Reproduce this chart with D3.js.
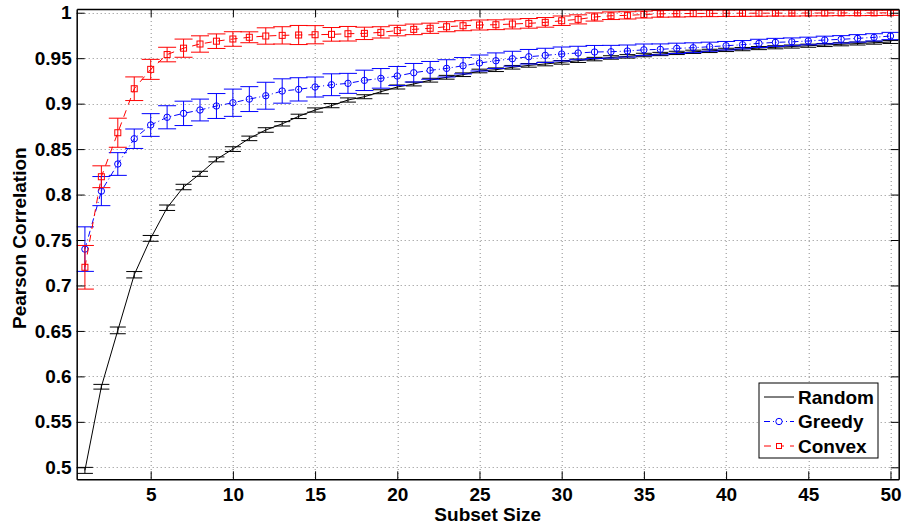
<!DOCTYPE html>
<html>
<head>
<meta charset="utf-8">
<script src="https://cdn.jsdelivr.net/npm/d3@7"></script>
<style>
  body { margin: 0; background: #fff; }
  svg text { font-family: "Liberation Sans", Arial, sans-serif; font-weight: bold; }
</style>
</head>
<body>
<svg id="chart"></svg>
<script>
// values
const subsetSizes = d3.range(1, 51);

const randomMean = [
  0.4966, 0.5886, 0.6506, 0.7118, 0.7518, 0.7855, 0.8083, 0.8228, 0.8387, 0.8500,
  0.8618, 0.8710, 0.8778, 0.8860, 0.8930, 0.8978, 0.9040, 0.9076, 0.9131, 0.9183,
  0.9216, 0.9258, 0.9290, 0.9318, 0.9359, 0.9373, 0.9400, 0.9421, 0.9436, 0.9454,
  0.9472, 0.9490, 0.9508, 0.9520, 0.9535, 0.9546, 0.9558, 0.9570, 0.9580, 0.9591,
  0.9600, 0.9611, 0.9620, 0.9628, 0.9637, 0.9645, 0.9653, 0.9661, 0.9670, 0.9678,
];
const randomErr = [
  0.0033, 0.0026, 0.0037, 0.0035, 0.0032, 0.0030, 0.0030, 0.0028, 0.0027, 0.0026,
  0.0025, 0.0025, 0.0024, 0.0024, 0.0023, 0.0023, 0.0023, 0.0022, 0.0022, 0.0022,
  0.0021, 0.0021, 0.0021, 0.0020, 0.0020, 0.0020, 0.0020, 0.0020, 0.0020, 0.0020,
  0.0019, 0.0019, 0.0019, 0.0019, 0.0019, 0.0018, 0.0018, 0.0018, 0.0018, 0.0018,
  0.0018, 0.0017, 0.0017, 0.0017, 0.0017, 0.0017, 0.0017, 0.0016, 0.0016, 0.0016,
];

const greedyMean = [
  0.7400, 0.8038, 0.8336, 0.8614, 0.8765, 0.8850, 0.8893, 0.8930, 0.8974, 0.9010,
  0.9050, 0.9087, 0.9139, 0.9157, 0.9183, 0.9208, 0.9223, 0.9256, 0.9278, 0.9304,
  0.9340, 0.9366, 0.9388, 0.9417, 0.9447, 0.9472, 0.9494, 0.9516, 0.9531, 0.9546,
  0.9557, 0.9568, 0.9571, 0.9579, 0.9592, 0.9597, 0.9608, 0.9615, 0.9626, 0.9637,
  0.9648, 0.9663, 0.9674, 0.9680, 0.9689, 0.9700, 0.9707, 0.9718, 0.9729, 0.9744,
];
const greedyErr = [
  0.0245, 0.0160, 0.0125, 0.0107, 0.0125, 0.0127, 0.0134, 0.0120, 0.0137, 0.0150,
  0.0137, 0.0148, 0.0134, 0.0128, 0.0110, 0.0120, 0.0110, 0.0112, 0.0108, 0.0105,
  0.0102, 0.0098, 0.0095, 0.0090, 0.0088, 0.0086, 0.0082, 0.0080, 0.0078, 0.0077,
  0.0074, 0.0072, 0.0070, 0.0066, 0.0064, 0.0060, 0.0057, 0.0054, 0.0050, 0.0047,
  0.0046, 0.0045, 0.0044, 0.0043, 0.0042, 0.0042, 0.0041, 0.0041, 0.0040, 0.0040,
];

const convexMean = [
  0.7200, 0.8196, 0.8680, 0.9164, 0.9377, 0.9540, 0.9610, 0.9656, 0.9687, 0.9711,
  0.9730, 0.9744, 0.9751, 0.9755, 0.9758, 0.9762, 0.9769, 0.9773, 0.9784, 0.9804,
  0.9817, 0.9829, 0.9846, 0.9857, 0.9865, 0.9868, 0.9876, 0.9883, 0.9894, 0.9912,
  0.9927, 0.9953, 0.9967, 0.9971, 0.9980, 0.9988, 0.9990, 0.9992, 0.9993, 0.9994,
  0.9995, 0.9995, 0.9996, 0.9996, 0.9997, 0.9997, 0.9998, 0.9998, 0.9998, 0.9999,
];
const convexErr = [
  0.0240, 0.0120, 0.0160, 0.0130, 0.0110, 0.0080, 0.0100, 0.0090, 0.0080, 0.0080,
  0.0060, 0.0090, 0.0095, 0.0105, 0.0100, 0.0075, 0.0080, 0.0068, 0.0062, 0.0058,
  0.0058, 0.0056, 0.0055, 0.0055, 0.0055, 0.0054, 0.0054, 0.0053, 0.0053, 0.0052,
  0.0050, 0.0045, 0.0042, 0.0040, 0.0038, 0.0037, 0.0037, 0.0036, 0.0036, 0.0035,
  0.0035, 0.0034, 0.0033, 0.0033, 0.0032, 0.0031, 0.0030, 0.0030, 0.0029, 0.0028,
];

const xTicks = [5, 10, 15, 20, 25, 30, 35, 40, 45, 50];
const yTicks = [0.5, 0.55, 0.6, 0.65, 0.7, 0.75, 0.8, 0.85, 0.9, 0.95, 1];

const seriesNames = ["Random", "Greedy", "Convex"];

class ErrorbarChart {
  margin = { top: 9, right: 3.3, bottom: 47.7, left: 76.7 };

  constructor(svg, width = 902, height = 527) {
    this.svg = d3.select(svg);
    this.width = width - this.margin.left - this.margin.right;
    this.height = height - this.margin.top - this.margin.bottom;
  }

  initialize() {
    this.svg.attr("width", this.width + this.margin.left + this.margin.right)
      .attr("height", this.height + this.margin.top + this.margin.bottom);

    this.container = this.svg.append("g")
      .attr("transform", `translate(${this.margin.left}, ${this.margin.top})`);

    this.xScale = d3.scaleLinear().domain([0.5, 50.5]).range([0, this.width]);
    this.yScale = d3.scaleLinear().domain([0.4868, 1.0041]).range([this.height, 0]);

    this.container.append("clipPath").attr("id", "plot-clip")
      .append("rect").attr("width", this.width).attr("height", this.height);

    this.grid = this.container.append("g");
    this.marks = this.container.append("g").attr("clip-path", "url(#plot-clip)");
    this.axes = this.container.append("g");
  }

  drawGrid() {
    const dotted = (sel) => sel.attr("stroke", "#8c8c8c").attr("stroke-width", 1)
      .attr("stroke-dasharray", "1,3");

    this.grid.selectAll(".gx").data(xTicks).join("line").attr("class", "gx")
      .attr("x1", (d) => Math.round(this.xScale(d)) + 0.5)
      .attr("x2", (d) => Math.round(this.xScale(d)) + 0.5)
      .attr("y1", 0).attr("y2", this.height)
      .call(dotted);

    this.grid.selectAll(".gy").data(yTicks).join("line").attr("class", "gy")
      .attr("y1", (d) => Math.round(this.yScale(d)) + 0.5)
      .attr("y2", (d) => Math.round(this.yScale(d)) + 0.5)
      .attr("x1", 0).attr("x2", this.width)
      .call(dotted);
  }

  drawAxes() {
    const fmt = d3.format("~g");
    const style = (g) => {
      g.select(".domain").attr("stroke", "#000").attr("stroke-width", 1.5);
      g.selectAll(".tick line").attr("stroke", "#000").attr("stroke-width", 1);
      g.selectAll(".tick text").attr("fill", "#000").style("font-size", "19px");
    };

    this.axes.append("g").attr("transform", `translate(0, ${this.height})`)
      .call(d3.axisBottom(this.xScale).tickValues(xTicks).tickSizeInner(-8).tickSizeOuter(0).tickPadding(8))
      .call(style);
    this.axes.append("g")
      .call(d3.axisTop(this.xScale).tickValues(xTicks).tickSizeInner(-8).tickSizeOuter(0).tickFormat(""))
      .call(style);
    this.axes.append("g")
      .call(d3.axisLeft(this.yScale).tickValues(yTicks).tickSizeInner(-8).tickSizeOuter(0).tickPadding(5).tickFormat(fmt))
      .call(style);
    this.axes.append("g").attr("transform", `translate(${this.width}, 0)`)
      .call(d3.axisRight(this.yScale).tickValues(yTicks).tickSizeInner(-8).tickSizeOuter(0).tickFormat(""))
      .call(style);

    this.axes.selectAll(".tick text").attr("font-weight", "bold");

    this.svg.append("text")
      .attr("x", this.margin.left + this.width / 2).attr("y", 521)
      .attr("text-anchor", "middle").style("font-size", "19px")
      .text("Subset Size");

    this.svg.append("text")
      .attr("transform", `translate(26, ${this.margin.top + this.height / 2 - 6}) rotate(-90)`)
      .attr("text-anchor", "middle").style("font-size", "19px")
      .text("Pearson Correlation");
  }

  // one series: line + error bars (+ markers)
  drawSeries(means, errs, color, dash, marker, capHalf) {
    const data = subsetSizes.map((x, i) => ({ x, y: means[i], e: errs[i] }));
    const g = this.marks.append("g");
    const x = (d) => this.xScale(d.x);

    g.append("path").datum(data)
      .attr("fill", "none").attr("stroke", color).attr("stroke-width", 1)
      .attr("stroke-dasharray", dash)
      .attr("d", d3.line().x(x).y((d) => this.yScale(d.y)));

    const bars = g.selectAll(".eb").data(data).join("g").attr("class", "eb")
      .attr("stroke", color).attr("stroke-width", 1).attr("fill", "none");
    bars.append("line")
      .attr("x1", x).attr("x2", x)
      .attr("y1", (d) => this.yScale(d.y - d.e)).attr("y2", (d) => this.yScale(d.y + d.e));
    bars.append("line")
      .attr("x1", (d) => x(d) - capHalf).attr("x2", (d) => x(d) + capHalf)
      .attr("y1", (d) => this.yScale(d.y + d.e)).attr("y2", (d) => this.yScale(d.y + d.e));
    bars.append("line")
      .attr("x1", (d) => x(d) - capHalf).attr("x2", (d) => x(d) + capHalf)
      .attr("y1", (d) => this.yScale(d.y - d.e)).attr("y2", (d) => this.yScale(d.y - d.e));

    if (marker === "circle") {
      g.selectAll(".mk").data(data).join("circle").attr("class", "mk")
        .attr("cx", x).attr("cy", (d) => this.yScale(d.y)).attr("r", 3.2)
        .attr("fill", "none").attr("stroke", color).attr("stroke-width", 1);
    } else if (marker === "square") {
      g.selectAll(".mk").data(data).join("rect").attr("class", "mk")
        .attr("x", (d) => x(d) - 3).attr("y", (d) => this.yScale(d.y) - 3)
        .attr("width", 6).attr("height", 6)
        .attr("fill", "none").attr("stroke", color).attr("stroke-width", 1);
    }
  }

  drawLegend() {
    const lg = this.svg.append("g").attr("transform", "translate(759, 383)");
    lg.append("rect").attr("width", 119).attr("height", 75)
      .attr("fill", "#fff").attr("stroke", "#000").attr("stroke-width", 1);

    const styles = [
      { color: "#000", dash: null, marker: null },
      { color: "#0000ff", dash: "6,3,1,3", marker: "circle" },
      { color: "#ff0000", dash: "7,6", marker: "square" },
    ];
    seriesNames.forEach((name, i) => {
      const cy = 14 + i * 24.5;
      const s = styles[i];
      lg.append("line").attr("x1", 5).attr("x2", 35).attr("y1", cy).attr("y2", cy)
        .attr("stroke", s.color).attr("stroke-width", 1).attr("stroke-dasharray", s.dash);
      if (s.marker === "circle") {
        lg.append("circle").attr("cx", 20).attr("cy", cy).attr("r", 3.2)
          .attr("fill", "#fff").attr("stroke", s.color);
      } else if (s.marker === "square") {
        lg.append("rect").attr("x", 17.5).attr("y", cy - 2.5).attr("width", 5).attr("height", 5)
          .attr("fill", "#fff").attr("stroke", s.color);
      }
      lg.append("text").attr("x", 39).attr("y", cy).attr("dy", "0.35em")
        .style("font-size", "19px").text(name);
    });
  }
}

const chart = new ErrorbarChart("#chart");
chart.initialize();
chart.drawGrid();
chart.drawSeries(randomMean, randomErr, "#000", null, null, 8);
chart.drawSeries(greedyMean, greedyErr, "#0000ff", "6,3,1,3", "circle", 9);
chart.drawSeries(convexMean, convexErr, "#ff0000", "7,6", "square", 9);
chart.drawAxes();
chart.drawLegend();
</script>
</body>
</html>
